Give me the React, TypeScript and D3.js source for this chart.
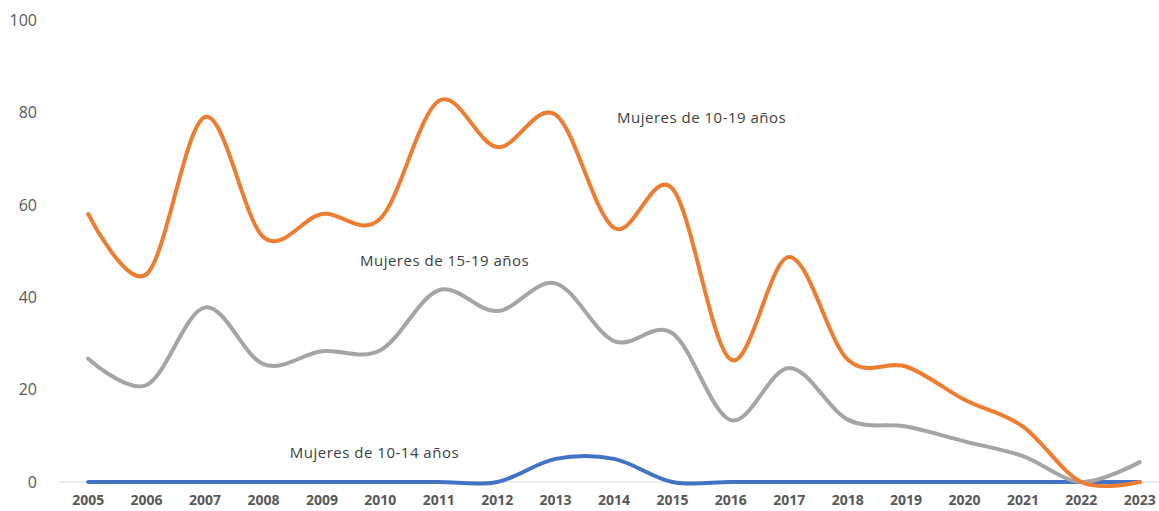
import React, { useEffect, useRef } from 'react';
import * as d3 from 'd3';

// Years on the x axis
const years = [
  '2005', '2006', '2007', '2008', '2009', '2010', '2011', '2012', '2013', '2014',
  '2015', '2016', '2017', '2018', '2019', '2020', '2021', '2022', '2023',
];

// Mujeres de 10-19 años
const women10to19 = [58, 45, 79, 53, 58, 57, 82.5, 72.5, 79.5, 55, 63.5, 26.5, 48.7, 26.5, 25, 17.8, 12, 0, 0];
// Mujeres de 15-19 años
const women15to19 = [26.7, 21, 37.8, 25.5, 28.3, 28.5, 41.5, 37, 43, 30.5, 32.2, 13.4, 24.7, 13.5, 12, 8.8, 5.6, 0, 4.3];
// Mujeres de 10-14 años
const women10to14 = [0, 0, 0, 0, 0, 0, 0, 0, 5, 5, 0, 0, 0, 0, 0, 0, 0, 0, 0];

const yTicks = [0, 20, 40, 60, 80, 100];

// label anchors: position in year steps from 2005, and value on the y axis
const seriesList = [
  { name: 'Mujeres de 10-14 años', values: women10to14, color: '#4472C4', labelAt: 4.9, labelValue: 6.3 },
  { name: 'Mujeres de 15-19 años', values: women15to19, color: '#A5A5A5', labelAt: 6.1, labelValue: 48 },
  { name: 'Mujeres de 10-19 años', values: women10to19, color: '#ED7D31', labelAt: 10.5, labelValue: 78.8 },
];

function App() {
  const svgRef = useRef<SVGSVGElement | null>(null);

  useEffect(() => {
    document.body.style.margin = '0';
    if (!svgRef.current) return;

    const width = 1159;
    const height = 511;

    const svg = d3.select(svgRef.current);
    svg.selectAll('*').remove();
    svg.attr('width', width).attr('height', height);

    const x = d3.scaleBand<string>().domain(years).range([59, 1169]);
    const y = d3.scaleLinear().domain([0, 100]).range([482, 20]);
    const cx = (yr: string) => (x(yr) as number) + x.bandwidth() / 2;
    const xAt = (idx: number) => cx(years[0]) + idx * x.step();

    // Y tick labels
    svg.append('g')
      .selectAll('text')
      .data(yTicks)
      .join('text')
      .attr('x', 37)
      .attr('y', d => y(d))
      .attr('dy', '0.36em')
      .attr('text-anchor', 'end')
      .attr('font-family', '"Open Sans", sans-serif')
      .attr('font-size', 16)
      .attr('fill', '#595959')
      .text(d => d);

    // Category axis line
    svg.append('line')
      .attr('x1', 59)
      .attr('x2', 1169)
      .attr('y1', y(0))
      .attr('y2', y(0))
      .attr('stroke', '#D9D9D9')
      .attr('stroke-width', 1);

    // X tick labels
    svg.append('g')
      .selectAll('text')
      .data(years)
      .join('text')
      .attr('x', d => cx(d))
      .attr('y', 500)
      .attr('dy', '0.36em')
      .attr('text-anchor', 'middle')
      .attr('font-family', '"Open Sans", sans-serif')
      .attr('font-weight', 700)
      .attr('font-size', 14)
      .attr('fill', '#595959')
      .text(d => d);

    const line = d3.line<number>()
      .x((_, i) => cx(years[i]))
      .y(d => y(d))
      .curve(d3.curveCardinal.tension(0));

    seriesList.forEach(s => {
      svg.append('path')
        .datum(s.values)
        .attr('d', line)
        .attr('fill', 'none')
        .attr('stroke', s.color)
        .attr('stroke-width', 4)
        .attr('stroke-linecap', 'round')
        .attr('stroke-linejoin', 'round');
    });

    // Series labels
    seriesList.forEach(s => {
      svg.append('text')
        .attr('x', xAt(s.labelAt))
        .attr('y', y(s.labelValue))
        .attr('dy', '0.36em')
        .attr('text-anchor', 'middle')
        .attr('font-family', '"Open Sans", sans-serif')
        .attr('font-size', 15)
        .attr('letter-spacing', 0.5)
        .attr('fill', '#404040')
        .text(s.name);
    });
  }, []);

  return <svg ref={svgRef} style={{ display: 'block' }} />;
}

export default App;
